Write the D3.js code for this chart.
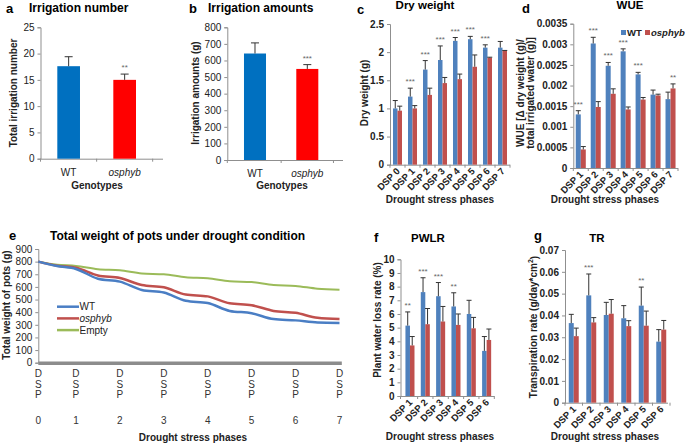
<!DOCTYPE html>
<html><head><meta charset="utf-8">
<script src="https://cdn.jsdelivr.net/npm/d3@7"></script>
<style>body{margin:0;background:#fff} svg{font-family:"Liberation Sans",Arial,sans-serif}</style>
</head><body><svg id="c" width="685" height="443"></svg>
<script>
// ---------- DATA ----------
const genotypes = ["WT", "osphyb"];
const irrigationNumber = [17.6, 15.0];
const irrigationNumberErr = [1.8, 1.1];
const irrigationNumberSig = ["", "**"];
const irrigationAmount = [642, 549];
const irrigationAmountErr = [64, 26];
const irrigationAmountSig = ["", "***"];

const dryPhases = ["DSP 0","DSP 1","DSP 2","DSP 3","DSP 4","DSP 5","DSP 6","DSP 7"];
const dryWT = [1.00, 1.21, 1.69, 1.86, 2.20, 2.23, 2.08, 2.08];
const dryWTErr = [0.14, 0.15, 0.16, 0.25, 0.06, 0.05, 0.05, 0.11];
const dryMut = [0.96, 1.00, 1.24, 1.45, 1.52, 1.74, 1.90, 2.03];
const dryMutErr = [0.08, 0.05, 0.12, 0.10, 0.09, 0.21, 0.01, 0.0];
const drySig = ["", "***", "***", "***", "***", "***", "***", ""];

const wuePhases = ["DSP 1","DSP 2","DSP 3","DSP 4","DSP 5","DSP 6","DSP 7"];
const wueWT = [0.00130, 0.00302, 0.00248, 0.00283, 0.00227, 0.00178, 0.00167];
const wueWTErr = [0.00009, 0.00015, 0.00008, 0.00006, 0.00005, 0.00011, 0.00017];
const wueMut = [0.00045, 0.00148, 0.00180, 0.00142, 0.00166, 0.00176, 0.00193];
const wueMutErr = [0.00007, 0.00013, 0.00012, 0.00006, 0.00005, 0.00003, 0.00011];
const wueSig = ["***", "***", "***", "***", "***", "", "**"];

const potDays = [0, 3, 6, 9.5, 13, 16.5, 20, 23.5, 27, 30.5, 34, 37.5, 41, 44.5, 48];
const potWT = [800, 765, 742, 665, 642, 575, 555, 490, 472, 410, 392, 345, 335, 318, 315];
const potMut = [800, 768, 752, 690, 670, 615, 597, 540, 525, 470, 455, 410, 395, 355, 345];
const potEmpty = [800, 776, 766, 740, 731, 706, 700, 676, 668, 645, 638, 615, 608, 586, 578];
const phaseDays = [0, 6, 13, 20, 27, 34, 41, 48];
const phaseLabels = ["0","1","2","3","4","5","6","7"];

const rPhases = ["DSP 1","DSP 2","DSP 3","DSP 4","DSP 5","DSP 6"];
const pwlrWT = [5.15, 7.6, 7.3, 6.55, 6.0, 3.3];
const pwlrWTErr = [1.0, 1.05, 1.0, 1.0, 1.0, 1.05];
const pwlrMut = [3.7, 5.25, 5.45, 5.2, 4.95, 4.1];
const pwlrMutErr = [0.65, 1.15, 1.1, 0.8, 0.8, 0.8];
const pwlrSig = ["**", "***", "***", "**", "", ""];

const trWT = [0.0365, 0.0492, 0.0402, 0.0387, 0.0445, 0.0280];
const trWTErr = [0.0040, 0.0098, 0.0058, 0.0058, 0.0085, 0.0055];
const trMut = [0.0305, 0.0368, 0.0408, 0.0351, 0.0353, 0.0335];
const trMutErr = [0.0037, 0.0022, 0.0065, 0.0025, 0.0067, 0.0042];
const trSig = ["", "***", "", "", "**", ""];

// ---------- DRAW ----------
const svg = d3.select("#c");
const BLUE = "#4F81BD", RED = "#C0504D", AX = "#8f8f8f", TXT = "#222";

function txt(x, y, s, o = {}) {
  const t = svg.append("text").attr("x", x).attr("y", y).text(s)
    .attr("font-size", o.size || 10).attr("fill", o.fill || TXT)
    .attr("font-weight", o.bold ? "bold" : null)
    .attr("font-style", o.italic ? "italic" : null)
    .attr("text-anchor", o.anchor || "start");
  if (o.rot) t.attr("transform", `rotate(${o.rot},${x},${y})`);
  return t;
}

function barPanel(o) {
  const g = svg.append("g");
  const y = d3.scaleLinear().domain([0, o.ymax]).range([o.bottom, o.top]);
  const x = d3.scaleBand().domain(o.cats).range(o.band).paddingInner(o.pi).paddingOuter(o.po);
  const xs = d3.scaleBand().domain(d3.range(o.series.length)).range([0, x.bandwidth()]);
  const ya = g.append("g").attr("transform", `translate(${o.left},0)`)
    .call(d3.axisLeft(y).tickValues(o.ticks).tickFormat(o.fmt).tickSize(3).tickPadding(3));
  ya.select(".domain").attr("stroke", AX);
  ya.selectAll(".tick line").attr("stroke", AX);
  ya.selectAll(".tick text").attr("font-size", o.tickSize || 10).attr("fill", TXT)
    .attr("font-weight", o.boldTicks ? "bold" : null).attr("font-family", null);
  g.append("line").attr("x1", o.left).attr("x2", o.axisEnd).attr("y1", o.bottom + 0.5).attr("y2", o.bottom + 0.5).attr("stroke", AX);
  const bnds = [o.left].concat(o.cats.map(c => x(c) + x.bandwidth() + x.step() * o.pi / 2));
  g.selectAll(null).data(bnds).join("line")
    .attr("x1", d => d).attr("x2", d => d).attr("y1", o.bottom).attr("y2", o.bottom + 3).attr("stroke", AX);
  o.series.forEach((s, si) => {
    g.selectAll(null).data(o.cats).join("rect")
      .attr("x", d => x(d) + xs(si)).attr("width", xs.bandwidth())
      .attr("y", (d, i) => y(s.vals[i])).attr("height", (d, i) => o.bottom - y(s.vals[i]))
      .attr("fill", s.color);
    const cx = d => x(d) + xs(si) + xs.bandwidth() / 2;
    g.selectAll(null).data(o.cats).join("path")
      .attr("d", (d, i) => {
        const x0 = cx(d), y0 = y(s.vals[i]), y1 = y(s.vals[i] + s.errs[i]);
        return `M${x0},${y0}V${y1}M${x0 - o.cap},${y1}H${x0 + o.cap}`;
      })
      .attr("stroke", "#333").attr("stroke-width", 1).attr("fill", "none");
  });
  o.cats.forEach((c, i) => {
    if (!o.sig[i]) return;
    let best = 0, top = -1;
    o.series.forEach((s, si) => { const v = s.vals[i] + s.errs[i]; if (v > top) { top = v; best = si; } });
    const sx = x(c) + xs(best) + xs.bandwidth() / 2;
    txt(sx, y(top) - 4, o.sig[i], { size: 8, anchor: "middle", fill: "#666" });
  });
  o.cats.forEach(c => {
    const cx = x(c) + x.bandwidth() / 2;
    if (o.rotate) {
      txt(cx + 3, o.bottom + 7, c, { size: 9.5, bold: true, anchor: "end", rot: -45 });
    } else {
      txt(cx, o.bottom + 17, c, { size: 10, anchor: "middle", italic: c === "osphyb" });
    }
  });
  return { x, y };
}

// ---- a ----
txt(6, 13, "a", { size: 13, bold: true, fill: "#000" });
txt(29, 12, "Irrigation number", { size: 12, bold: true, fill: "#000" });
barPanel({
  cats: genotypes, band: [40.5, 152.8], pi: 0.595, po: 0.30, left: 40.5, axisEnd: 163,
  top: 27.3, bottom: 158.7, ymax: 25, ticks: [0, 5, 10, 15, 20, 25], fmt: d3.format("d"), cap: 4,
  series: [{ vals: irrigationNumber, errs: irrigationNumberErr }], sig: irrigationNumberSig
});
txt(13, 93, "Total irrigation number", { size: 10, bold: true, anchor: "middle", rot: -90 }).attr("dy", "0.35em");
txt(97, 189, "Genotypes", { size: 10, bold: true, anchor: "middle" });

// ---- b ----
txt(189, 13, "b", { size: 13, bold: true, fill: "#000" });
txt(208, 12, "Irrigation amounts", { size: 12, bold: true, fill: "#000" });
barPanel({
  cats: genotypes, band: [227.3, 335], pi: 0.579, po: 0.319, left: 227.3, axisEnd: 343,
  top: 27.3, bottom: 160, ymax: 800, ticks: d3.range(0, 801, 100), fmt: d3.format("d"), cap: 4,
  series: [{ vals: irrigationAmount, errs: irrigationAmountErr }], sig: irrigationAmountSig
});
txt(195, 93, "Irrigation amounts (g)", { size: 10, bold: true, anchor: "middle", rot: -90 }).attr("dy", "0.35em");
txt(282, 189, "Genotypes", { size: 10, bold: true, anchor: "middle" });
svg.selectAll("rect").each(function (d) { if (d === "WT") d3.select(this).attr("fill", "#0070C0"); if (d === "osphyb") d3.select(this).attr("fill", "#FF0000"); });

// ---- c ----
txt(357, 14, "c", { size: 13, bold: true, fill: "#000" });
txt(425, 9, "Dry weight", { size: 11.5, bold: true, anchor: "middle", fill: "#000" });
barPanel({
  cats: dryPhases, band: [390, 510], pi: 0.4, po: 0.2, left: 390, axisEnd: 510,
  top: 24, bottom: 164.7, ymax: 2.5, ticks: [0, 0.5, 1, 1.5, 2, 2.5], fmt: d => String(d), cap: 2.5,
  series: [{ vals: dryWT, errs: dryWTErr, color: BLUE }, { vals: dryMut, errs: dryMutErr, color: RED }],
  sig: drySig, rotate: true, boldTicks: true
});
txt(364, 93, "Dry weight (g)", { size: 10, bold: true, anchor: "middle", rot: -90 }).attr("dy", "0.35em");
txt(440, 203, "Drought stress phases", { size: 10, bold: true, anchor: "middle" });

// ---- d ----
txt(522, 13, "d", { size: 13, bold: true, fill: "#000" });
txt(630, 9, "WUE", { size: 11.5, bold: true, anchor: "middle", fill: "#000" });
barPanel({
  cats: wuePhases, band: [573.3, 678], pi: 0.33, po: 0.165, left: 573.3, axisEnd: 678,
  top: 23.7, bottom: 168, ymax: 0.0035, ticks: d3.range(0, 0.00351, 0.0005), fmt: d => d === 0 ? "0" : String(+d.toFixed(4)), cap: 2.5,
  series: [{ vals: wueWT, errs: wueWTErr, color: BLUE }, { vals: wueMut, errs: wueMutErr, color: RED }],
  sig: wueSig, rotate: true, boldTicks: true
});
txt(520, 93, "WUE [Δ dry weight (g)/", { size: 10, bold: true, anchor: "middle", rot: -90 }).attr("dy", "0.35em");
txt(530, 93, "total irrigated water (g)]", { size: 10, bold: true, anchor: "middle", rot: -90 }).attr("dy", "0.35em");
txt(605, 203, "Drought stress phases", { size: 10, bold: true, anchor: "middle" });
svg.append("rect").attr("x", 621).attr("y", 30).attr("width", 5).attr("height", 5).attr("fill", BLUE);
txt(627, 35.5, "WT", { size: 9.5, bold: true });
svg.append("rect").attr("x", 645).attr("y", 30).attr("width", 5).attr("height", 5).attr("fill", RED);
txt(651, 35.5, "osphyb", { size: 9.5, bold: true, italic: true });

// ---- e ----
txt(9, 240, "e", { size: 13, bold: true, fill: "#000" });
txt(50, 240, "Total weight of pots under drought condition", { size: 12, bold: true, fill: "#000" });
{
  const x = d3.scaleLinear().domain([0, 48]).range([38.3, 339.5]);
  const y = d3.scaleLinear().domain([0, 900]).range([362.7, 249]);
  const ya = svg.append("g").attr("transform", "translate(38.3,0)")
    .call(d3.axisLeft(y).tickValues(d3.range(0, 901, 100)).tickSize(3).tickPadding(3));
  ya.select(".domain").attr("stroke", AX);
  ya.selectAll(".tick line").attr("stroke", AX);
  ya.selectAll(".tick text").attr("font-size", 10).attr("fill", TXT).attr("font-family", null);
  svg.append("rect").attr("x", 38.3).attr("y", 361.5).attr("width", 303.5).attr("height", 3.5).attr("fill", "#8c8c8c");
  const line = d3.line().x((d, i) => x(potDays[i])).y(d => y(d)).curve(d3.curveMonotoneX);
  [[potEmpty, "#9BBB59", 2], [potMut, RED, 2.5], [potWT, "#4A7EC4", 2.5]].forEach(([v, c, w]) => {
    svg.append("path").attr("d", line(v)).attr("fill", "none").attr("stroke", c).attr("stroke-width", w);
  });
  phaseDays.forEach((d, i) => {
    const px = x(d);
    ["D", "S", "P"].forEach((ch, k) => txt(px, 377 + k * 10.7, ch, { size: 10, anchor: "middle", fill: "#333" }));
    txt(px, 424, phaseLabels[i], { size: 10, anchor: "middle", fill: "#333" });
  });
  txt(193, 441, "Drought stress phases", { size: 10, bold: true, anchor: "middle" });
  txt(6, 305, "Total weight of pots (g)", { size: 10, bold: true, anchor: "middle", rot: -90 }).attr("dy", "0.35em");
  const leg = [["WT", "#4A7EC4", false], ["osphyb", RED, true], ["Empty", "#9BBB59", false]];
  leg.forEach(([n, c, it], i) => {
    const ly = 306.7 + i * 11.7;
    svg.append("line").attr("x1", 57).attr("x2", 79).attr("y1", ly).attr("y2", ly).attr("stroke", c).attr("stroke-width", 2.5);
    txt(79.5, ly + 3.6, n, { size: 10, italic: it });
  });
}

// ---- f ----
txt(374, 242, "f", { size: 13, bold: true, fill: "#000" });
txt(428, 242, "PWLR", { size: 11.5, bold: true, anchor: "middle", fill: "#000" });
barPanel({
  cats: rPhases, band: [402.3, 494.3], pi: 0.41, po: 0.205, left: 400.5, axisEnd: 494.3,
  top: 259.3, bottom: 396, ymax: 10, ticks: d3.range(0, 11, 1), fmt: d3.format("d"), cap: 2.5,
  series: [{ vals: pwlrWT, errs: pwlrWTErr, color: BLUE }, { vals: pwlrMut, errs: pwlrMutErr, color: RED }],
  sig: pwlrSig, rotate: true, boldTicks: true
});
txt(377, 320, "Plant water loss rate (%)", { size: 10, bold: true, anchor: "middle", rot: -90 }).attr("dy", "0.35em");
txt(440, 440, "Drought stress phases", { size: 10, bold: true, anchor: "middle" });

// ---- g ----
txt(534, 240, "g", { size: 13, bold: true, fill: "#000" });
txt(597, 242, "TR", { size: 11.5, bold: true, anchor: "middle", fill: "#000" });
barPanel({
  cats: rPhases, band: [565, 670], pi: 0.43, po: 0.215, left: 565, axisEnd: 668,
  top: 250, bottom: 402.7, ymax: 0.07, ticks: d3.range(0, 0.0701, 0.01), fmt: d => d === 0 ? "0" : d.toFixed(2), cap: 2.5,
  series: [{ vals: trWT, errs: trWTErr, color: BLUE }, { vals: trMut, errs: trMutErr, color: RED }],
  sig: trSig, rotate: true, boldTicks: true
});
{
  const t = txt(533, 327, "Transpiration rate (g/day*cm", { size: 10, bold: true, anchor: "middle", rot: -90 }).attr("dy", "0.35em");
  t.append("tspan").text("2").attr("font-size", 7).attr("dy", "-0.5em");
  t.append("tspan").text(")").attr("dy", "0.5em");
}
txt(605, 440, "Drought stress phases", { size: 10, bold: true, anchor: "middle" });
</script></body></html>
